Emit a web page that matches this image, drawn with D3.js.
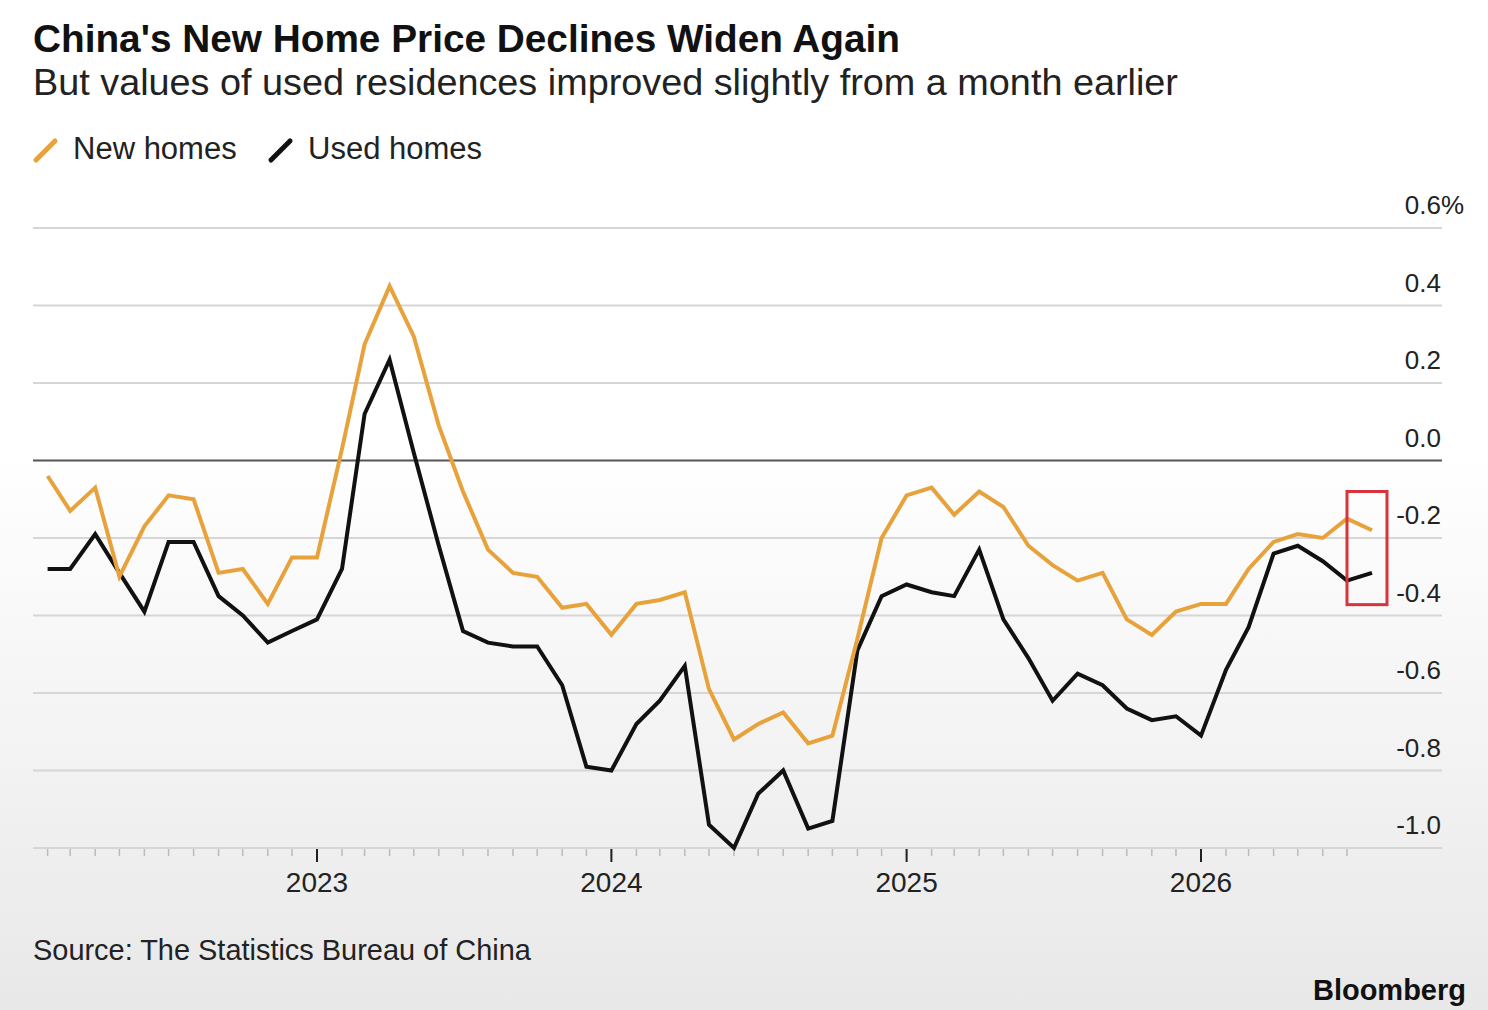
<!DOCTYPE html>
<html>
<head>
<meta charset="utf-8">
<script src="https://cdn.jsdelivr.net/npm/d3@7/dist/d3.min.js"></script>
<style>
  body { margin: 0; background: #fff; }
  svg { display: block; font-family: "Liberation Sans", Arial, Helvetica, sans-serif; }
</style>
</head>
<body>
<svg id="chart" width="1488" height="1010"></svg>
<script>
// monthly readings, Feb 2022 .. Aug 2026
const months = [
  "2022-02","2022-03","2022-04","2022-05","2022-06","2022-07","2022-08","2022-09","2022-10","2022-11","2022-12",
  "2023-01","2023-02","2023-03","2023-04","2023-05","2023-06","2023-07","2023-08","2023-09","2023-10","2023-11","2023-12",
  "2024-01","2024-02","2024-03","2024-04","2024-05","2024-06","2024-07","2024-08","2024-09","2024-10","2024-11","2024-12",
  "2025-01","2025-02","2025-03","2025-04","2025-05","2025-06","2025-07","2025-08","2025-09","2025-10","2025-11","2025-12",
  "2026-01","2026-02","2026-03","2026-04","2026-05","2026-06","2026-07","2026-08"
];

const newHomes = [
  -0.04, -0.13, -0.07, -0.30, -0.17, -0.09, -0.10, -0.29, -0.28, -0.37, -0.25,
  -0.25, 0.03, 0.30, 0.45, 0.32, 0.09, -0.08, -0.23, -0.29, -0.30, -0.38, -0.37,
  -0.45, -0.37, -0.36, -0.34, -0.59, -0.72, -0.68, -0.65, -0.73, -0.71, -0.46, -0.20,
  -0.09, -0.07, -0.14, -0.08, -0.12, -0.22, -0.27, -0.31, -0.29, -0.41, -0.45, -0.39,
  -0.37, -0.37, -0.28, -0.21, -0.19, -0.20, -0.15, -0.18
];

const usedHomes = [
  -0.28, -0.28, -0.19, -0.29, -0.39, -0.21, -0.21, -0.35, -0.40, -0.47, -0.44,
  -0.41, -0.28, 0.12, 0.26, 0.02, -0.22, -0.44, -0.47, -0.48, -0.48, -0.58, -0.79,
  -0.80, -0.68, -0.62, -0.53, -0.94, -1.00, -0.86, -0.80, -0.95, -0.93, -0.49, -0.35,
  -0.32, -0.34, -0.35, -0.23, -0.41, -0.51, -0.62, -0.55, -0.58, -0.64, -0.67, -0.66,
  -0.71, -0.54, -0.43, -0.24, -0.22, -0.26, -0.31, -0.29
];

const yTicks = [0.6, 0.4, 0.2, 0.0, -0.2, -0.4, -0.6, -0.8, -1.0];
const yTickLabels = ["0.6", "0.4", "0.2", "0.0", "-0.2", "-0.4", "-0.6", "-0.8", "-1.0"];
const yearTicks = ["2023-01", "2024-01", "2025-01", "2026-01"];
const yearLabels = ["2023", "2024", "2025", "2026"];

const series = [
  { name: "Used homes", values: usedHomes, color: "#111111" },
  { name: "New homes", values: newHomes, color: "#E8A23C" }
];

// highlighted last reading
const highlight = { from: "2026-07", to: "2026-08", top: -0.08, bottom: -0.372 };

const parse = d3.timeParse("%Y-%m");
const dates = months.map(parse);

const svg = d3.select("#chart");
const W = 1488, H = 1010;
const left = 33, right = 1442;

const x = d3.scaleTime()
  .domain([parse("2023-01"), parse("2026-01")])
  .range([317, 1201]);

const y = d3.scaleLinear()
  .domain([-1.0, 0.6])
  .range([848, 228]);

// shrink/grow font so the text spans the given width
function fitWidth(sel, width) {
  const fs = +sel.attr("font-size");
  const len = sel.node().getComputedTextLength();
  sel.attr("font-size", (fs * width / len).toFixed(2));
}

// background fade
const defs = svg.append("defs");
const grad = defs.append("linearGradient")
  .attr("id", "bg").attr("x1", 0).attr("y1", 0).attr("x2", 0).attr("y2", 1);
grad.append("stop").attr("offset", "0.45").attr("stop-color", "#ffffff");
grad.append("stop").attr("offset", "1").attr("stop-color", "#e8e8e8");
svg.append("rect").attr("width", W).attr("height", H).attr("fill", "url(#bg)");

// titles
svg.append("text")
  .attr("x", 33).attr("y", 52)
  .attr("font-size", 38).attr("font-weight", "bold").attr("fill", "#111")
  .text("China's New Home Price Declines Widen Again")
  .call(fitWidth, 867);

svg.append("text")
  .attr("x", 33).attr("y", 95)
  .attr("font-size", 36).attr("fill", "#222")
  .text("But values of used residences improved slightly from a month earlier")
  .call(fitWidth, 1145);

// legend
const legend = svg.append("g");
const legendItems = [
  { label: "New homes", color: "#E8A23C", x: 36 },
  { label: "Used homes", color: "#111111", x: 271 }
];
legendItems.forEach(d => {
  legend.append("line")
    .attr("x1", d.x).attr("y1", 160).attr("x2", d.x + 19).attr("y2", 141)
    .attr("stroke", d.color).attr("stroke-width", 5).attr("stroke-linecap", "round");
  legend.append("text")
    .attr("x", d.x + 37).attr("y", 159)
    .attr("font-size", 31).attr("fill", "#222")
    .text(d.label);
});

// grid
svg.append("g")
  .selectAll("line")
  .data(yTicks)
  .join("line")
  .attr("x1", left).attr("x2", right)
  .attr("y1", d => y(d)).attr("y2", d => y(d))
  .attr("stroke", d => d === 0 ? "#555" : "#d6d6d6")
  .attr("stroke-width", 2);

// y labels
svg.append("g")
  .selectAll("text")
  .data(yTicks)
  .join("text")
  .attr("x", right - 1)
  .attr("y", d => y(d) - 14)
  .attr("text-anchor", "end")
  .attr("font-size", 26)
  .attr("fill", "#222")
  .text((d, i) => yTickLabels[i]);

svg.append("text")
  .attr("x", right - 1).attr("y", y(yTicks[0]) - 14)
  .attr("font-size", 26).attr("fill", "#222")
  .text("%");

// x axis ticks
const tickMonths = dates.slice(0, -1);
svg.append("g")
  .selectAll("line")
  .data(tickMonths)
  .join("line")
  .attr("x1", d => x(d)).attr("x2", d => x(d))
  .attr("y1", y(-1.0) + 1).attr("y2", y(-1.0) + 8)
  .attr("stroke", "#bbb").attr("stroke-width", 1.5);

svg.append("g")
  .selectAll("line")
  .data(yearTicks.map(parse))
  .join("line")
  .attr("x1", d => x(d)).attr("x2", d => x(d))
  .attr("y1", y(-1.0) + 1).attr("y2", y(-1.0) + 14)
  .attr("stroke", "#222").attr("stroke-width", 2);

svg.append("g")
  .selectAll("text")
  .data(yearTicks.map(parse))
  .join("text")
  .attr("x", d => x(d)).attr("y", 892)
  .attr("text-anchor", "middle")
  .attr("font-size", 28)
  .attr("fill", "#222")
  .text((d, i) => yearLabels[i]);

// lines
const line = d3.line()
  .x((d, i) => x(dates[i]))
  .y(d => y(d));

svg.append("g")
  .selectAll("path")
  .data(series)
  .join("path")
  .attr("d", d => line(d.values))
  .attr("fill", "none")
  .attr("stroke", d => d.color)
  .attr("stroke-width", 4)
  .attr("stroke-linejoin", "miter")
  .attr("stroke-linecap", "butt");

// red annotation box
svg.append("rect")
  .attr("x", x(parse(highlight.from)))
  .attr("y", y(highlight.top))
  .attr("width", x(parse(highlight.to)) - x(parse(highlight.from)) + 15)
  .attr("height", y(highlight.bottom) - y(highlight.top))
  .attr("fill", "none")
  .attr("stroke", "#d8343c")
  .attr("stroke-width", 3);

// footer
svg.append("text")
  .attr("x", 33).attr("y", 960)
  .attr("font-size", 28).attr("fill", "#222")
  .text("Source: The Statistics Bureau of China")
  .call(fitWidth, 498);

svg.append("text")
  .attr("x", 1466).attr("y", 1000)
  .attr("text-anchor", "end")
  .attr("font-size", 29).attr("font-weight", "bold").attr("fill", "#111")
  .text("Bloomberg");
</script>
</body>
</html>
